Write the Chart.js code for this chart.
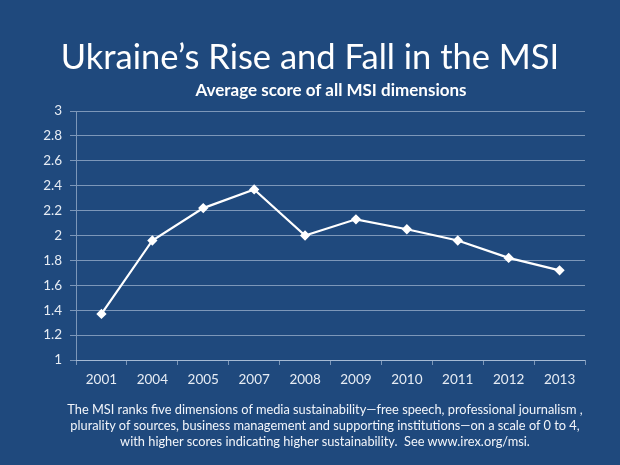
<!DOCTYPE html>
<html>
<head>
<meta charset="utf-8">
<script src="https://cdn.jsdelivr.net/npm/chart.js@4/dist/chart.umd.min.js"></script>
<style>
  html, body { margin: 0; padding: 0; background: #1F497D; }
  #wrap { position: relative; width: 620px; height: 465px; background: #1F497D; overflow: hidden; font-family: Lato, "Open Sans", sans-serif; color: #fff; }
  #chart { position: absolute; left: 0; top: 0; }
  .txt { position: absolute; white-space: nowrap; text-align: center; }
  #title { left: 0; width: 620px; top: 36px; font-size: 34.5px; line-height: 40px; }
  #subtitle { left: 131px; width: 400px; top: 80px; font-size: 17px; font-weight: bold; line-height: 20px; }
  #footer { left: 25px; width: 600px; top: 401px; font-size: 12.8px; line-height: 16px; color: #f2f5fa; }
</style>
</head>
<body>
<div id="wrap">
  <canvas id="chart" width="620" height="465"></canvas>
  <div class="txt" id="title">Ukraine’s Rise and Fall in the MSI</div>
  <div class="txt" id="subtitle">Average score of all MSI dimensions</div>
  <div class="txt" id="footer">The MSI ranks five dimensions of media sustainability—free speech, professional journalism ,<br>plurality of sources, business management and supporting institutions—on a scale of 0 to 4,<br>with higher scores indicating higher sustainability.&nbsp; See www.irex.org/msi.</div>
</div>
<script>
const years = ['2001','2004','2005','2007','2008','2009','2010','2011','2012','2013'];
const scores = [1.37, 1.96, 2.22, 2.37, 2.00, 2.13, 2.05, 1.96, 1.82, 1.72];
const yMin = 1, yMax = 3, yStep = 0.2;

const labelColor = '#e6ecf4';
const gridColor = 'rgba(200,215,235,0.55)';

new Chart(document.getElementById('chart'), {
  type: 'line',
  data: {
    labels: years,
    datasets: [{
      data: scores,
      borderColor: '#ffffff',
      backgroundColor: '#ffffff',
      borderWidth: 2.2,
      pointStyle: 'rectRot',
      pointRadius: 3.6,
      pointBackgroundColor: '#ffffff',
      pointBorderColor: '#ffffff',
      tension: 0
    }]
  },
  options: {
    responsive: false,
    animation: false,
    devicePixelRatio: 1,
    layout: { padding: { left: 0, top: 111, right: 35, bottom: 0 } },
    plugins: { legend: { display: false }, title: { display: false }, tooltip: { enabled: false } },
    scales: {
      x: {
        offset: true,
        afterFit: (s) => { s.height = 105; },
        border: { display: true, color: gridColor, width: 1 },
        grid: { display: true, drawOnChartArea: false, drawTicks: true, tickLength: 5, color: gridColor, offset: true },
        ticks: { color: labelColor, padding: 7, font: { family: 'Lato', size: 13.5 }, maxRotation: 0 }
      },
      y: {
        min: yMin, max: yMax,
        afterFit: (s) => { s.width = 76; },
        border: { display: true, color: gridColor, width: 1 },
        grid: { color: gridColor, lineWidth: 1, tickLength: 6 },
        ticks: {
          stepSize: yStep, color: labelColor, padding: 8, font: { family: 'Lato', size: 13.5 },
          callback: (v) => String(Math.round(v * 10) / 10)
        }
      }
    }
  }
});
</script>
</body>
</html>
